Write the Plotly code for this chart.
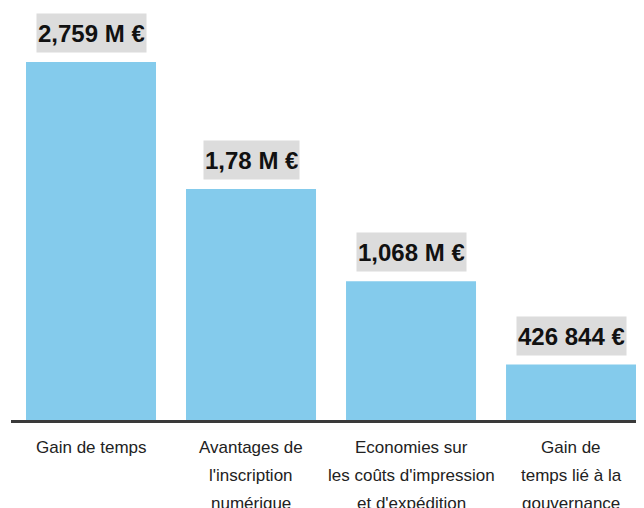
import plotly.graph_objects as go

# categories (one list of lines per bar) and values in millions of euros
categories = ["Gain de temps", "Avantages de l'inscription numérique",
              "Economies sur les coûts d'impression et d'expédition",
              "Gain de temps lié à la gouvernance"]
label_lines = [
    ["Gain de temps"],
    ["Avantages de", "l'inscription", "numérique"],
    ["Economies sur", "les coûts d'impression", "et d'expédition"],
    ["Gain de", "temps lié à la", "gouvernance"],
]
values = [2.759, 1.78, 1.068, 0.426844]
value_labels = ["2,759 M €", "1,78 M €", "1,068 M €", "426 844 €"]

BAR_COLOR = "#84CBEC"
FONT = "Liberation Sans, Arial, sans-serif"

fig = go.Figure()
fig.add_trace(go.Bar(
    x=categories,
    y=values,
    marker=dict(color=BAR_COLOR, line=dict(width=0)),
    showlegend=False,
    hoverinfo="skip",
))

# value labels in grey boxes above each bar
for cat, val, txt in zip(categories, values, value_labels):
    fig.add_annotation(
        x=cat, y=val, xref="x", yref="y",
        text="<b>" + txt + "</b>",
        showarrow=False, yanchor="bottom", yshift=9,
        bgcolor="#DCDCDC", borderpad=1, height=36,
        font=dict(family=FONT, size=24, color="#111111"),
    )

# category labels under the axis, one annotation per line for the wide line spacing
for cat, lines in zip(categories, label_lines):
    for i, line in enumerate(lines):
        fig.add_annotation(
            x=cat, y=0, xref="x", yref="y",
            text=line, showarrow=False, yanchor="middle",
            yshift=-27 - 28 * i,
            font=dict(family=FONT, size=17, color="#222222"),
        )

# the page body adds an 8px margin, so the figure is laid out 8px up/left
fig.update_layout(
    width=644, height=508,
    margin=dict(l=3, r=0, t=0, b=96),
    paper_bgcolor="white", plot_bgcolor="white",
    bargap=0.1875,
    xaxis=dict(range=[-0.5, 3.506], showticklabels=False, showgrid=False,
               showline=True, linecolor="#3A3A3A", linewidth=3, ticks=""),
    yaxis=dict(range=[0, 412 / 129.8], visible=False, showgrid=False),
)

fig.write_html("out.html")
